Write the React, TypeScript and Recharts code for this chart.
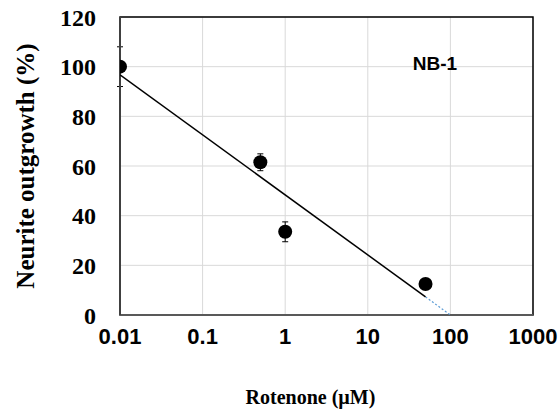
import React from "react";
import {
  ComposedChart,
  Scatter,
  ErrorBar,
  XAxis,
  YAxis,
  CartesianGrid,
  ReferenceArea,
} from "recharts";

// Rotenone concentrations (µM) and measured outgrowth
const concentrations = [0.01, 0.5, 1, 50];
const outgrowth = [100, 61.5, 33.5, 12.5];
const errors = [8, 3.4, 4, 1];

// logarithmic trendline
const trendX = [0.01, 50];
const trendY = [96.7, 7.3];
const forecastX = [50, 100];
const forecastY = [7.3, 0];

const xTicks = [0.01, 0.1, 1, 10, 100, 1000];
const yTicks = [0, 20, 40, 60, 80, 100, 120];

const points = concentrations.map((x, i) => ({ x, y: outgrowth[i], err: errors[i] }));
const trend = trendX.map((x, i) => ({ x, y: trendY[i] }));
const forecast = forecastX.map((x, i) => ({ x, y: forecastY[i] }));

const serif = "Liberation Serif";
const sans = "Liberation Sans";

const Dot = (props: any) => <circle cx={props.cx} cy={props.cy} r={7} fill="#000" />;
const NoDot = () => null;

const YTick = (props: any) => (
  <text
    x={props.x}
    y={props.y}
    dy="0.36em"
    textAnchor="end"
    fontFamily={serif}
    fontWeight="bold"
    fontSize={24}
    fill="#000"
  >
    {props.payload.value}
  </text>
);

export default function App() {
  return (
    <div style={{ position: "absolute", left: 0, top: 0, width: 559, height: 418, background: "#fff" }}>
      <ComposedChart width={559} height={418} margin={{ top: 17, right: 26, left: 0, bottom: 0 }}>
        <CartesianGrid stroke="#d9d9d9" strokeWidth={1} />
        <XAxis
          dataKey="x"
          type="number"
          scale="log"
          domain={[0.01, 1000]}
          ticks={xTicks}
          allowDataOverflow
          height={103}
          tickLine={false}
          axisLine={{ stroke: "#595959", strokeWidth: 2 }}
          tickSize={0}
          tickMargin={13}
          tickFormatter={(v: number) => String(v)}
          tick={{ fontFamily: sans, fontWeight: "bold", fontSize: 22, fill: "#000" }}
          label={{
            value: "Rotenone (µM)",
            position: "insideBottom",
            offset: 14,
            dx: -16,
            style: { fontFamily: serif, fontWeight: "bold", fontSize: 20, fill: "#000" },
          }}
        />
        <YAxis
          dataKey="y"
          type="number"
          domain={[0, 120]}
          ticks={yTicks}
          width={120}
          tickLine={false}
          axisLine={{ stroke: "#404040", strokeWidth: 2 }}
          tickSize={0}
          tickMargin={24}
          tick={YTick}
        />
        <ReferenceArea x1={0.01} x2={1000} y1={0} y2={120} fill="none" stroke="#000" strokeWidth={1.5} ifOverflow="visible" />
        <Scatter data={forecast} line={{ stroke: "#5b9bd5", strokeWidth: 1.2, strokeDasharray: "2 2" }} shape={NoDot} isAnimationActive={false} />
        <Scatter data={trend} line={{ stroke: "#000", strokeWidth: 1.5 }} shape={NoDot} isAnimationActive={false} />
        <Scatter data={points} shape={Dot} isAnimationActive={false}>
          <ErrorBar dataKey="err" direction="y" width={3} stroke="#000" strokeWidth={1} />
        </Scatter>
        <text x={435} y={70} textAnchor="middle" fontFamily={sans} fontWeight="bold" fontSize={19} fill="#000">
          NB-1
        </text>
        <text
          x={25}
          y={166}
          transform="rotate(-90, 25, 166)"
          textAnchor="middle"
          dominantBaseline="central"
          fontFamily={serif}
          fontWeight="bold"
          fontSize={25}
          fill="#000"
        >
          Neurite outgrowth (%)
        </text>
      </ComposedChart>
    </div>
  );
}
